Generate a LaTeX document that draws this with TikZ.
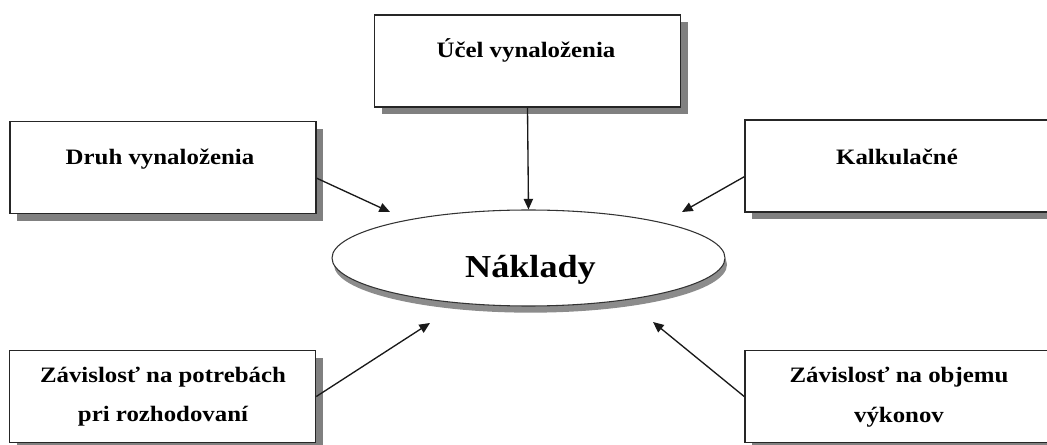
\documentclass[tikz,border=0pt]{standalone}
\usepackage{fontspec}
\newfontfamily\lbf{Liberation Serif Bold}[FakeStretch=1.13]
\usetikzlibrary{shapes.geometric,shadows,arrows.meta}
\begin{document}
\begin{tikzpicture}[x=0.75pt,y=-0.75pt,
  box/.style={draw=black!85, line width=1.2pt, fill=white, rectangle, inner sep=0pt,
    minimum width=229.5pt, minimum height=69pt,
    drop shadow={shadow xshift=5.5pt, shadow yshift=-5.5pt, fill=black!50, opacity=1}},
  lbl/.style={font=\lbf\fontsize{16.5}{30}\selectfont, align=center, inner sep=0pt},
  arr/.style={line width=1pt, draw=black!90, -{Triangle[length=8pt,width=7pt]}},
]
\useasboundingbox (0,0) rectangle (1047,445);
% boxes
\node[box] (tbox) at (527.5,61) {};
\node[box] (dbox) at (163,167.5) {};
\node[box] (kbox) at (898,166) {};
\node[box] (blbox) at (162.5,396.5) {};
\node[box] (brbox) at (898,396.5) {};
% ellipse
\node[ellipse, draw=black!80, line width=0.8pt, fill=white, minimum width=294.75pt,
  minimum height=72pt, inner sep=0pt,
  drop shadow={shadow xshift=1.5pt, shadow yshift=-5pt, fill=black!45, opacity=1}]
  (ell) at (528.5,258) {};
% texts
\node[lbl, anchor=base] (tt) at (526,58) {Účel vynaloženia};
\node[lbl, anchor=base] (dt) at (160,165) {Druh vynaloženia};
\node[lbl, anchor=base] (kt) at (897,165) {Kalkulačné};
\node[font=\lbf\fontsize{24}{28}\selectfont, anchor=base, inner sep=0pt] (nt) at (530.5,278) {Náklady};
\node[lbl, anchor=base] (blt) at (163,422) {Závislosť na potrebách\\pri rozhodovaní};
\node[lbl, anchor=base] (brt) at (899,423) {Závislosť na objemu\\výkonov};
% arrow tips
\coordinate (dtip) at (390,212);
\coordinate (ktip) at (682,212);
\coordinate (bltip) at (430,323);
\coordinate (brtip) at (653,322);
% arrows
\draw[arr] (tbox.south) -- (ell.north);
\draw[arr] (dbox.-4.3) -- (dtip);
\draw[arr] (kbox.184.9) -- (ktip);
\draw[arr] (blbox.east) -- (bltip);
\draw[arr] (brbox.west) -- (brtip);
\end{tikzpicture}
\end{document}
